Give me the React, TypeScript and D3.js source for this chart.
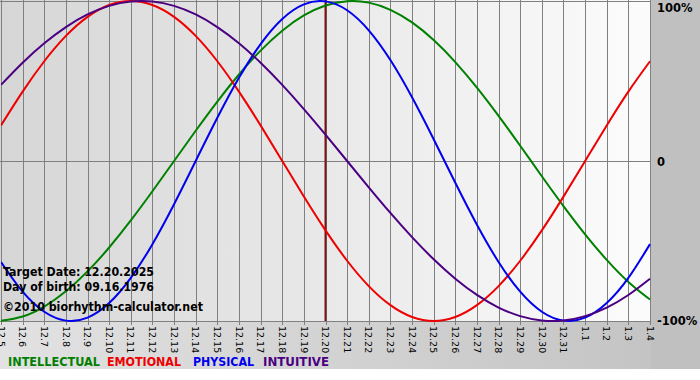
import React from "react";
import * as d3 from "d3";

const dateLabels: string[] = [
  "12.5", "12.6", "12.7", "12.8", "12.9", "12.10", "12.11", "12.12", "12.13", "12.14",
  "12.15", "12.16", "12.17", "12.18", "12.19", "12.20", "12.21", "12.22", "12.23", "12.24",
  "12.25", "12.26", "12.27", "12.28", "12.29", "12.30", "12.31", "1.1", "1.2", "1.3", "1.4",
];

const intellectual: number[] = [
  -0.9989, -0.9718, -0.9096, -0.8146, -0.6901, -0.5406, -0.3717, -0.1893, 0, 0.1893,
  0.3717, 0.5406, 0.6901, 0.8146, 0.9096, 0.9718, 0.9989, 0.9898, 0.945, 0.866,
  0.7557, 0.6182, 0.4582, 0.2817, 0.0951, -0.0951, -0.2817, -0.4582, -0.6182, -0.7557, -0.866,
];
const emotional: number[] = [
  0.2225, 0.4339, 0.6235, 0.7818, 0.901, 0.9749, 1, 0.9749, 0.901, 0.7818,
  0.6235, 0.4339, 0.2225, 0, -0.2225, -0.4339, -0.6235, -0.7818, -0.901, -0.9749,
  -1, -0.9749, -0.901, -0.7818, -0.6235, -0.4339, -0.2225, 0, 0.2225, 0.4339, 0.6235,
];
const physical: number[] = [
  -0.6311, -0.817, -0.9423, -0.9977, -0.9791, -0.8879, -0.7308, -0.5196, -0.2698, 0,
  0.2698, 0.5196, 0.7308, 0.8879, 0.9791, 0.9977, 0.9423, 0.817, 0.6311, 0.3984,
  0.1362, -0.1362, -0.3984, -0.6311, -0.817, -0.9423, -0.9977, -0.9791, -0.8879, -0.7308, -0.5196,
];
const intuitive: number[] = [
  0.4759, 0.6142, 0.7357, 0.8372, 0.9158, 0.9694, 0.9966, 0.9966, 0.9694, 0.9158,
  0.8372, 0.7357, 0.6142, 0.4759, 0.3247, 0.1646, 0, -0.1646, -0.3247, -0.4759,
  -0.6142, -0.7357, -0.8372, -0.9158, -0.9694, -0.9966, -0.9966, -0.9694, -0.9158, -0.8372, -0.7357,
];

const seriesNames = ["INTELLECTUAL", "EMOTIONAL", "PHYSICAL", "INTUITIVE"];
const seriesColors = ["#008000", "#ee0000", "#0000ee", "#4b0082"];
const seriesData = [intellectual, emotional, physical, intuitive];
const yTicks = [1, 0, -1];
const yTickLabels = ["100%", "0", "-100%"];
const targetIndex = 15;
const infoLines = ["Target Date: 12.20.2025", "Day of birth: 09.16.1976", "©2010 biorhythm-calculator.net"];

export default function App() {
  const W = 700, H = 380;
  const x = d3.scaleLinear().domain([0, dateLabels.length - 1]).range([1, 650]);
  const y = d3.scaleLinear().domain([-1, 1]).range([321, 1]);
  const line = d3
    .line<number>()
    .x((_, i) => x(i))
    .y((d) => y(d))
    .curve(d3.curveNatural);

  const font = "'DejaVu Sans', Verdana, sans-serif";
  const legendPos = [
    { x: 8, w: 92 },
    { x: 107, w: 74 },
    { x: 193, w: 61 },
    { x: 263, w: 66 },
  ];
  const infoPos = [
    { y: 276, w: 151 },
    { y: 291, w: 151 },
    { y: 311, w: 200 },
  ];
  const rightLabelY = [12, 166, 325];

  return (
    <div style={{ position: "fixed", left: 0, top: 0 }}>
      <svg width={W} height={H} style={{ display: "block" }}>
        <defs>
          <linearGradient id="plotBg" x1="0" y1="0" x2="1" y2="0">
            <stop offset="0" stopColor="#d6d6d6" />
            <stop offset="1" stopColor="#fcfcfc" />
          </linearGradient>
          <linearGradient id="frameBg" x1="0" y1="0" x2="1" y2="0">
            <stop offset="0" stopColor="#e2e2e2" />
            <stop offset="1" stopColor="#c2c2c2" />
          </linearGradient>
          <clipPath id="plotClip">
            <rect x={1} y={0} width={650} height={322} />
          </clipPath>
        </defs>
        <rect x={0} y={0} width={W} height={H} fill="#ffffff" />
        <rect x={0} y={0} width={W} height={369} fill="url(#frameBg)" />
        <rect x={651} y={0} width={49} height={369} fill="#c0c0c0" />
        <rect x={0} y={0} width={651} height={321} fill="url(#plotBg)" />

        {dateLabels.map((_, i) => (
          <line
            key={"g" + i}
            x1={Math.round(x(i)) + 0.5}
            x2={Math.round(x(i)) + 0.5}
            y1={0}
            y2={325}
            stroke="#808080"
            strokeWidth={1}
          />
        ))}
        {yTicks.map((t, i) => (
          <line
            key={"h" + i}
            x1={0}
            x2={651}
            y1={Math.round(y(t)) + 0.5}
            y2={Math.round(y(t)) + 0.5}
            stroke="#808080"
            strokeWidth={1}
          />
        ))}

        <line
          x1={x(targetIndex)}
          x2={x(targetIndex)}
          y1={0}
          y2={321}
          stroke="#7a1414"
          strokeWidth={2}
        />

        <g clipPath="url(#plotClip)">
          {seriesData.map((d, i) => (
            <path
              key={"s" + i}
              d={line(d) || ""}
              fill="none"
              stroke={seriesColors[i]}
              strokeWidth={2}
            />
          ))}
        </g>

        {dateLabels.map((lab, i) => (
          <text
            key={"l" + i}
            transform={`translate(${x(i)},326) rotate(90)`}
            dy="0.35em"
            fontFamily={font}
            fontSize={9.5}
            fill="#000"
          >
            {lab}
          </text>
        ))}

        {yTicks.map((t, i) => (
          <text
            key={"r" + i}
            x={657}
            y={rightLabelY[i]}
            fontFamily={font}
            fontWeight="bold"
            fontSize={11.5}
            fill="#000"
          >
            {yTickLabels[i]}
          </text>
        ))}

        {infoLines.map((s, i) => (
          <text
            key={"i" + i}
            x={3}
            y={infoPos[i].y}
            fontFamily={font}
            fontWeight="bold"
            fontSize={12}
            fill="#000"
            textLength={infoPos[i].w}
            lengthAdjust="spacingAndGlyphs"
          >
            {s}
          </text>
        ))}

        {seriesNames.map((n, i) => (
          <text
            key={"lg" + i}
            x={legendPos[i].x}
            y={366}
            fontFamily={font}
            fontWeight="bold"
            fontSize={12}
            fill={seriesColors[i]}
            textLength={legendPos[i].w}
            lengthAdjust="spacingAndGlyphs"
          >
            {n}
          </text>
        ))}
      </svg>
    </div>
  );
}
